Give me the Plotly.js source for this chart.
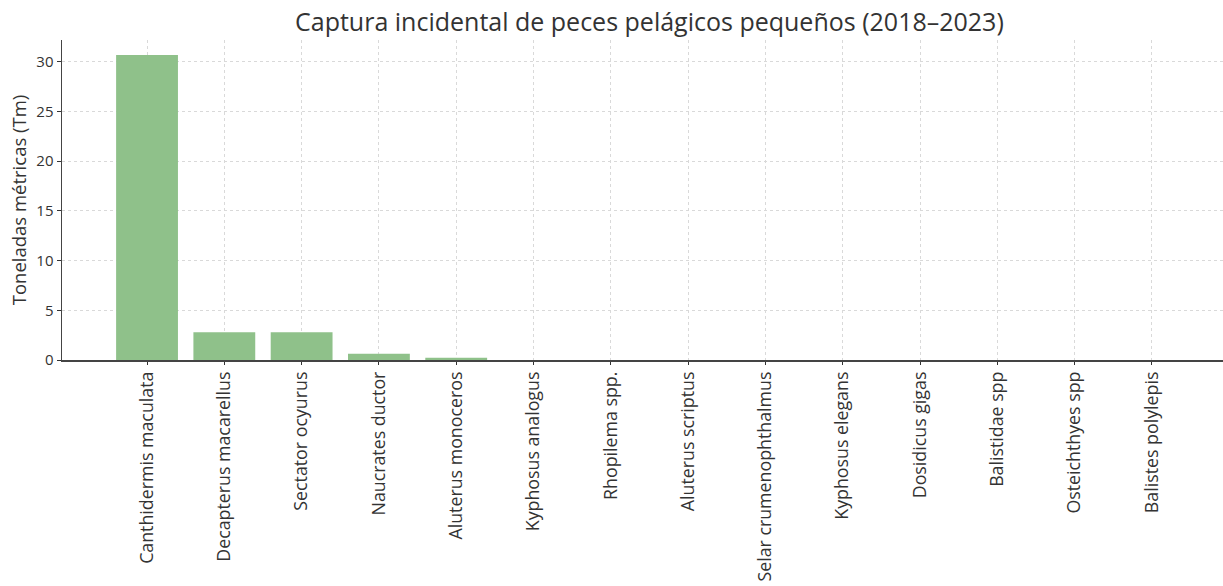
<!DOCTYPE html>
<html>
<head>
<meta charset="utf-8">
<script src="https://cdn.plot.ly/plotly-3.0.1.min.js"></script>
<style>html,body{margin:0;padding:0;background:#fff;}#chart{width:1223px;height:586px;}</style>
</head>
<body>
<div id="chart"></div>
<script>
const species = ["Canthidermis maculata","Decapterus macarellus","Sectator ocyurus","Naucrates ductor","Aluterus monoceros","Kyphosus analogus","Rhopilema spp.","Aluterus scriptus","Selar crumenophthalmus","Kyphosus elegans","Dosidicus gigas","Balistidae spp","Osteichthyes spp","Balistes polylepis"];
const toneladas = [30.7, 2.78, 2.78, 0.62, 0.23, 0.01, 0.01, 0.01, 0.01, 0.005, 0.005, 0.005, 0.005, 0.005];
const tituloGrafico = "Captura incidental de peces pelágicos pequeños (2018–2023)";
const tituloY = "Toneladas métricas (Tm)";

const idx = species.map((_, i) => i);
const font = "Open Sans, sans-serif";
const txt = "#333333";

Plotly.newPlot("chart", [{
  type: "bar",
  x: idx,
  y: toneladas,
  width: 0.8,
  marker: {color: "rgba(143,193,138,1)", line: {width: 0}},
  hoverinfo: "skip"
}], {
  width: 1223, height: 586,
  margin: {l: 62, r: 0, t: 40, b: 226},
  paper_bgcolor: "#fff", plot_bgcolor: "#fff",
  showlegend: false,
  font: {family: font, color: txt, size: 15},
  title: {text: tituloGrafico, x: 0.531, xanchor: "center", y: 0.962, yanchor: "middle",
          font: {family: font, size: 25, color: txt}},
  xaxis: {
    range: [-1.1, 13.92],
    tickmode: "array", tickvals: idx, ticktext: species,
    tickangle: -90, tickfont: {family: font, size: 17.8, color: txt},
    ticks: "outside", ticklen: 3, tickcolor: "#333", tickwidth: 1,
    showgrid: true, gridcolor: "#d9d9d9", griddash: "dot", gridwidth: 1,
    showline: true, linecolor: "#444", linewidth: 1.5,
    zeroline: false, fixedrange: true
  },
  yaxis: {
    range: [0, 32.2],
    tickvals: [0,5,10,15,20,25,30],
    tickfont: {family: font, size: 15, color: txt},
    ticks: "outside", ticklen: 4, tickcolor: "#333", tickwidth: 1,
    showgrid: true, gridcolor: "#d9d9d9", griddash: "dot", gridwidth: 1,
    showline: true, linecolor: "#444", linewidth: 1.5,
    zeroline: false,
    title: {text: tituloY, font: {family: font, size: 18.5, color: txt}, standoff: 5},
    fixedrange: true
  }
}, {displayModeBar: false, staticPlot: true});
</script>
</body>
</html>
